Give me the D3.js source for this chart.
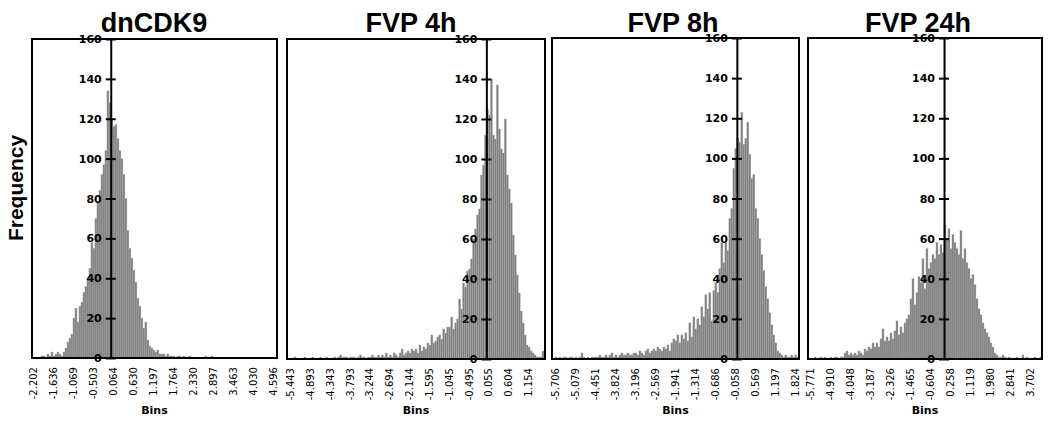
<!DOCTYPE html>
<html>
<head>
<meta charset="utf-8">
<script src="https://cdn.jsdelivr.net/npm/d3@7"></script>
<style>
body { margin: 0; background: #fff; }
svg { display: block; }
</style>
</head>
<body>
<script>
//panel titles
var panelTitles = ["dnCDK9", "FVP 4h", "FVP 8h", "FVP 24h"];

//bin tick labels, one label every 10 bins
var binLabels1 = ["-2.202", "-1.636", "-1.069", "-0.503", "0.064", "0.630", "1.197", "1.764", "2.330", "2.897", "3.463", "4.030", "4.596"];
var binLabels2 = ["-5.443", "-4.893", "-4.343", "-3.793", "-3.244", "-2.694", "-2.144", "-1.595", "-1.045", "-0.495", "0.055", "0.604", "1.154"];
var binLabels3 = ["-5.706", "-5.079", "-4.451", "-3.824", "-3.196", "-2.569", "-1.941", "-1.314", "-0.686", "-0.058", "0.569", "1.197", "1.824"];
var binLabels4 = ["-5.771", "-4.910", "-4.048", "-3.187", "-2.326", "-1.465", "-0.604", "0.258", "1.119", "1.980", "2.841", "3.702"];

//frequency per bin, starting at the first bin label
var counts1 = [0,0,0,0,1, 1,0,2,1,3,1,2,3,2,1, 3,5,8,10,12,
    20,25,18,26,28, 33,36,40,45,58, 55,70,78,84,92,
    97,104,134,128,120, 116,117,110,104,100, 92,80,64,55,50,
    44,38,30,26,20, 15,18,9,6,5, 4,3,4,2,2, 2,1,2,1,1,
    1,0,1,1,0, 1,0,0,1,0, 0,0,0,0,0,0,1,0,0,1];
var counts2 = [0,0,1,0,0, 0,0,1,0,0, 0,1,0,0,0, 1,0,0,1,0,
    0,0,1,0,1, 2,1,1,1,0, 1,1,1,0,1, 2,1,1,0,1,
    1,2,1,1,2, 1,2,1,3,1, 2,1,3,2,1, 3,5,2,3,4,
    3,5,4,5,3, 7,4,6,5,8, 7,12,8,9,11, 12,10,15,13,16,
    16,21,15,18,20, 30,25,38,36,44, 45,50,60,65,72, 75,92,97,112,125,
    122,140,112,110,137, 115,105,103,120,92, 85,78,62,52,42, 33,24,18,12,7,
    6,4,3,2,1, 1,1,4];
var counts3 = [1,0,1,0,1,1,0,1,1,0, 1,0,1,3,1,0,1,0,1,1,
    1,1,2,1,1,2,1,2,3,1, 2,1,2,3,2,2,3,2,2,3,
    3,2,4,3,2,4,5,3,4,5, 4,6,5,4,6, 5,7,4,8,10,
    9,12,8,12,10, 13,9,18,11,21, 15,20,17,26,21, 32,25,33,19,34,
    38,33,45,58,48, 58,54,70,75,95, 105,110,108,123,107, 110,118,102,90,92,
    75,70,60,52,44, 36,30,23,17,12, 8,4,3,2,1, 2,1,1,2,1,2,1];
var counts4 = [0,0,1,0,0,1,0,1,0,0, 1,0,1,1,0,1,1, 3,4,2,3,2,
    3,2,4,3,2,5, 4,6,5,8,6, 8,6,10,15,9, 11,9,13,10,14,
    19,12,16,13,18, 20,22,30,40,27, 33,41,38,50,35, 55,45,48,52,50,
    58,52,57,53,67, 60,65,55,62,58, 55,52,64,50,55, 48,45,40,42,37,
    30,25,22,18,15, 13,11,8,6,3, 2,1,1,2,1,
    0,1,0,0,0,1,0,0,2,0,1,0,0,0,1,0,0,1];

//frequency ticks
var yTicks = [0, 20, 40, 60, 80, 100, 120, 140, 160];

//chart frame dimensions
var width = 1050,
    height = 428;

//panel layout: frame edges, pixel span of first/last bin label, title centre
var panels = [
    {title: panelTitles[0], labels: binLabels1, counts: counts1, x0: 32, x1: 277, top: 39, bottom: 358, labelLeft: 33, labelRight: 273, titleX: 154},
    {title: panelTitles[1], labels: binLabels2, counts: counts2, x0: 287, x1: 545, top: 39, bottom: 359, labelLeft: 290, labelRight: 528, titleX: 411},
    {title: panelTitles[2], labels: binLabels3, counts: counts3, x0: 552, x1: 799, top: 38, bottom: 359, labelLeft: 555, labelRight: 795, titleX: 673},
    {title: panelTitles[3], labels: binLabels4, counts: counts4, x0: 808, x1: 1042, top: 38, bottom: 359, labelLeft: 810, labelRight: 1030, titleX: 918}
];

var svg = d3.select("body")
    .append("svg")
    .attr("width", width)
    .attr("height", height);

//shared y axis title
svg.append("text")
    .attr("transform", "translate(23,188) rotate(-90)")
    .attr("text-anchor", "middle")
    .style("font-family", "'Liberation Sans', Arial, sans-serif")
    .style("font-weight", "bold")
    .style("font-size", "21px")
    .text("Frequency");

panels.forEach(function(p){
    drawPanel(p);
});

//draw one histogram panel
function drawPanel(p){
    var g = svg.append("g");

    var first = +p.labels[0],
        last = +p.labels[p.labels.length - 1],
        binWidth = (+p.labels[1] - first) / 10;

    var xScale = d3.scaleLinear()
        .domain([first, last])
        .range([p.labelLeft, p.labelRight]);

    var yScale = d3.scaleLinear()
        .domain([0, 160])
        .range([p.bottom, p.top]);

    //histogram bars
    g.selectAll(".bar")
        .data(p.counts)
        .enter()
        .append("rect")
        .attr("class", "bar")
        .attr("x", function(d, i){ return xScale(first + i * binWidth); })
        .attr("width", function(d, i){
            return xScale(first + (i + 1) * binWidth) - xScale(first + i * binWidth);
        })
        .attr("y", function(d){ return yScale(d); })
        .attr("height", function(d){ return yScale(0) - yScale(d); })
        .style("fill", "#808080")
        .style("stroke", "#a8a8a8")
        .style("stroke-width", 0.4);

    //frame
    g.append("rect")
        .attr("x", p.x0)
        .attr("y", p.top)
        .attr("width", p.x1 - p.x0)
        .attr("height", p.bottom - p.top)
        .style("fill", "none")
        .style("stroke", "#000")
        .style("stroke-width", 2);

    //vertical axis at zero
    var yAxis = d3.axisLeft(yScale)
        .tickValues(yTicks)
        .tickSizeInner(5)
        .tickSizeOuter(0)
        .tickPadding(4);

    var axis = g.append("g")
        .attr("transform", "translate(" + xScale(0) + ",0)")
        .call(yAxis);

    axis.select(".domain")
        .style("stroke-width", 2);
    axis.selectAll(".tick line")
        .attr("x1", 5)
        .style("stroke-width", 2);
    axis.selectAll(".tick text")
        .style("font-family", "'DejaVu Sans', Verdana, sans-serif")
        .style("font-weight", "bold")
        .style("font-size", "11px")
        .style("fill", "#000");

    //bin labels along the bottom
    var xAxis = d3.axisBottom(xScale)
        .tickValues(p.labels.map(Number))
        .tickFormat(function(d, i){ return p.labels[i]; })
        .tickSize(0);

    var bAxis = g.append("g")
        .attr("transform", "translate(0," + p.bottom + ")")
        .call(xAxis);

    bAxis.select(".domain").remove();
    bAxis.selectAll("text")
        .attr("transform", "rotate(-90)")
        .attr("x", -9)
        .attr("y", 0)
        .attr("dy", "0.35em")
        .style("text-anchor", "end")
        .style("font-family", "'DejaVu Sans', Verdana, sans-serif")
        .style("font-size", "10px")
        .style("fill", "#000");

    //axis title below
    g.append("text")
        .attr("x", (p.x0 + p.x1) / 2)
        .attr("y", 414)
        .attr("text-anchor", "middle")
        .style("font-family", "'DejaVu Sans', Verdana, sans-serif")
        .style("font-weight", "bold")
        .style("font-size", "11px")
        .text("Bins");

    //panel title
    g.append("text")
        .attr("x", p.titleX)
        .attr("y", 32)
        .attr("text-anchor", "middle")
        .style("font-family", "'Liberation Sans', Arial, sans-serif")
        .style("font-weight", "bold")
        .style("font-size", "27px")
        .text(p.title);
}
</script>
</body>
</html>
